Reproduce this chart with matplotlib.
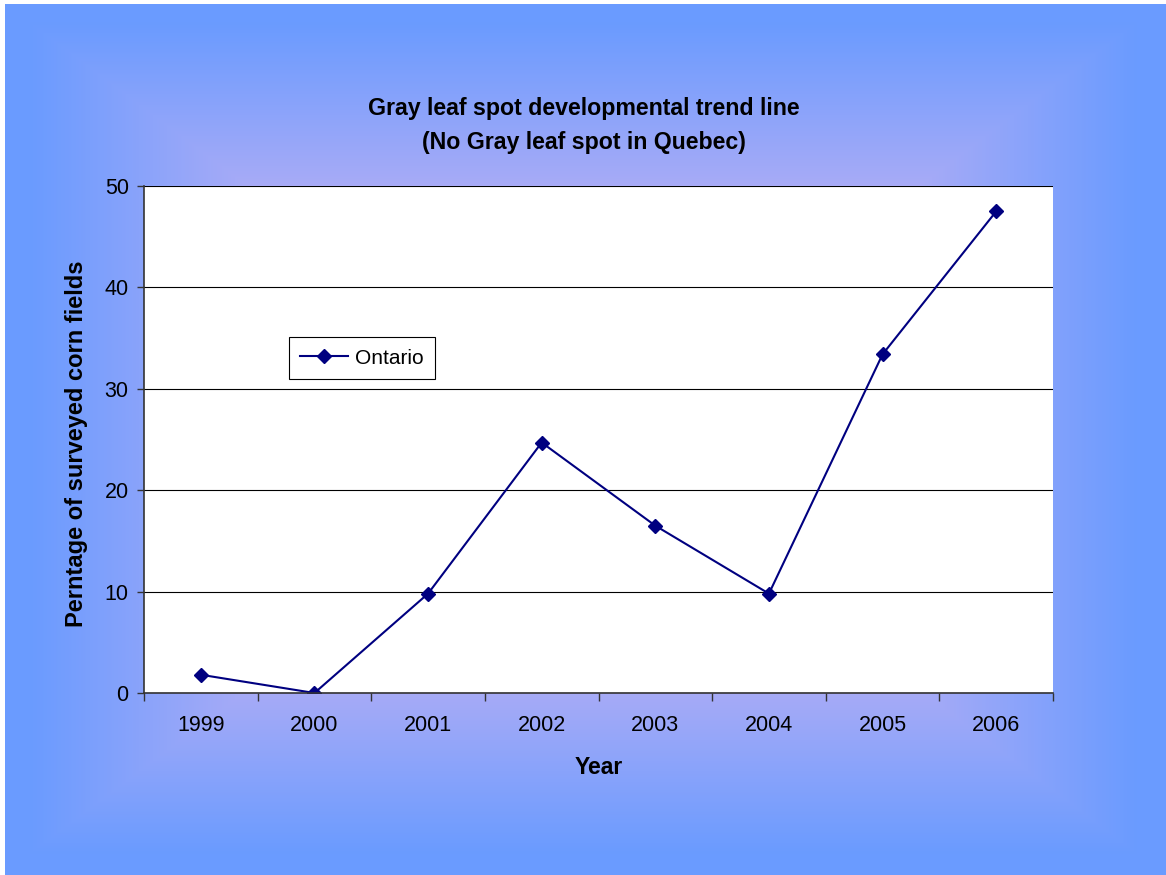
import numpy as np
import matplotlib.pyplot as plt
from matplotlib.colors import to_rgb

years = ["1999", "2000", "2001", "2002", "2003", "2004", "2005", "2006"]
ontario = [1.8, 0.0, 9.8, 24.7, 16.5, 9.8, 33.4, 47.5]

plt.rcParams["font.family"] = ["Liberation Sans", "DejaVu Sans"]

W, H = 1166, 875
fig = plt.figure(figsize=(W / 100, H / 100), dpi=100)

# background: rectangular "from center" gradient, light lavender to blue
bg = fig.add_axes([0, 0, 1, 1], zorder=-10)
bg.axis("off")
yy, xx = np.mgrid[0:H, 0:W]
cx, cy = W / 2, H / 2
t = np.maximum(np.abs(xx - cx) / (W / 2), np.abs(yy - cy) / (H / 2))
t = np.clip((t - 0.55) / (0.95 - 0.55), 0, 1)[..., None]
light = np.array(to_rgb("#acacf6"))
blue = np.array(to_rgb("#6a9bff"))
img = light * (1 - t) + blue * t
img[:4, :] = 1.0
img[:, :5] = 1.0
bg.imshow(img, extent=[0, 1, 0, 1], aspect="auto", origin="upper")
bg.set_xlim(0, 1)
bg.set_ylim(0, 1)

ax = fig.add_axes([144 / W, 1 - 693 / H, (1053 - 144) / W, (693 - 186) / H])
ax.set_facecolor("white")

x = np.arange(len(years)) + 0.5
ax.plot(x, ontario, color="#000080", linewidth=1.5, marker="D", markersize=7,
        markerfacecolor="#000080", markeredgecolor="#000080", label="Ontario")

ax.set_xlim(0, len(years))
ax.set_ylim(0, 50)
ax.set_yticks([0, 10, 20, 30, 40, 50])
ax.set_xticks(np.arange(len(years) + 1))
ax.set_xticklabels([])
ax.set_xticks(x, minor=True)
ax.set_xticklabels(years, minor=True)
ax.tick_params(axis="x", which="major", direction="out", length=6, width=1, color="#333333")
ax.tick_params(axis="x", which="minor", length=0, pad=16, labelsize=15.5)
ax.tick_params(axis="y", direction="out", length=5, width=1, color="#333333", labelsize=15.5, pad=6)

ax.grid(True, axis="y", color="black", linewidth=0.8)
ax.set_axisbelow(True)
for s in ["top", "right"]:
    ax.spines[s].set_visible(False)
for s in ["left", "bottom"]:
    ax.spines[s].set_color("#333333")
    ax.spines[s].set_linewidth(1.2)

ax.set_xlabel("Year", fontsize=16.5, fontweight="bold", labelpad=14)
ax.set_ylabel("Perntage of surveyed corn fields", fontsize=17, fontweight="bold")
ax.yaxis.set_label_coords(-0.0616, 0.5 - 4.5 / 507)

fig.text((367 + 800) / 2 / W, 1 - 109 / H, "Gray leaf spot developmental trend line",
         ha="center", va="center", fontsize=16.7, fontweight="bold")
fig.text((367 + 800) / 2 / W, 1 - 143 / H, "(No Gray leaf spot in Quebec)",
         ha="center", va="center", fontsize=16.7, fontweight="bold")

leg = ax.legend(loc="upper left", bbox_to_anchor=(0.1595, 0.702), borderaxespad=0,
                fancybox=False, edgecolor="black", framealpha=1, fontsize=15,
                handlelength=2.3, handletextpad=0.3, borderpad=0.55)
leg.get_frame().set_linewidth(0.8)

fig.savefig("out.png", dpi=100)
